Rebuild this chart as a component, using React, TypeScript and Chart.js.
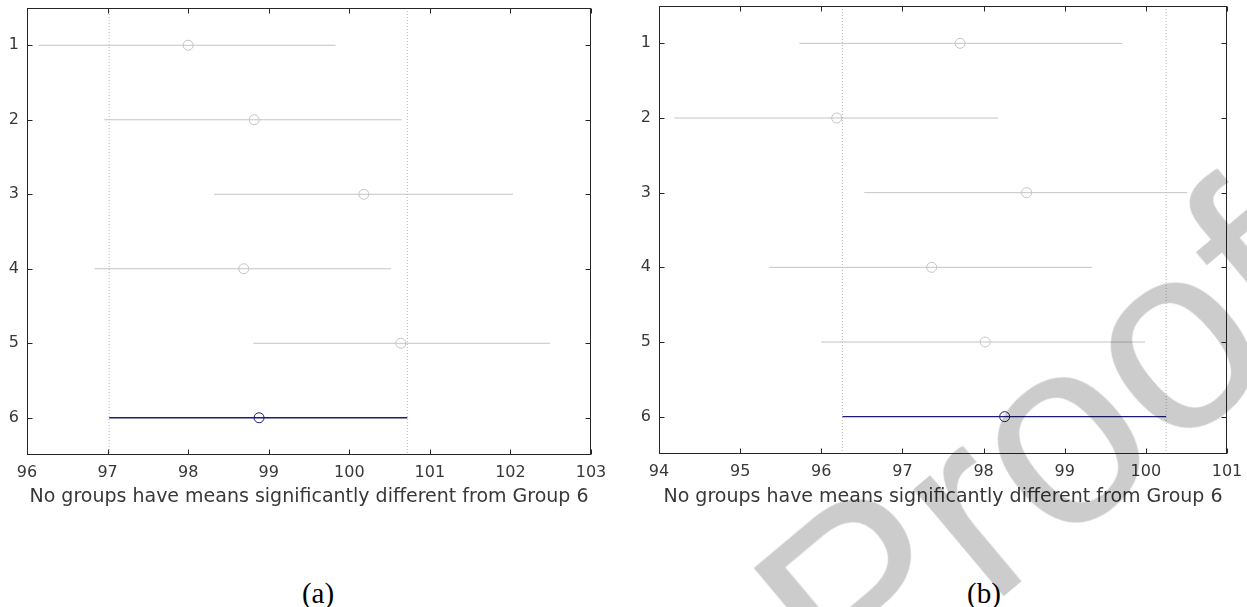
import React, { useEffect, useRef } from "react";
import { Chart, registerables } from "chart.js";

Chart.register(...registerables);

// ---------- data ----------
const groups = [1, 2, 3, 4, 5, 6];
const groupLabels = ["1", "2", "3", "4", "5", "6"];
const yRange = [0.5, 6.5];

// Panel (a)
const meansA = [98.0, 98.82, 100.18, 98.69, 100.64, 98.88];
const lowerA = [96.14, 96.96, 98.32, 96.84, 98.81, 97.02];
const upperA = [99.83, 100.65, 102.03, 100.52, 102.49, 100.72];
const xTicksA = [96, 97, 98, 99, 100, 101, 102, 103];

// Panel (b)
const meansB = [97.71, 96.19, 98.53, 97.36, 98.02, 98.26];
const lowerB = [95.73, 94.19, 96.53, 95.36, 96.0, 96.26];
const upperB = [99.71, 98.18, 100.51, 99.34, 99.99, 100.25];
const xTicksB = [94, 95, 96, 97, 98, 99, 100, 101];

const axisTitle = "No groups have means significantly different from Group 6";
const captions = ["(a)", "(b)"];
const watermark = "Proof";

// ---------- styles ----------
const FONT = "'DejaVu Sans', sans-serif";
const TEXT = "#383838";
const GRAY = "#c4c4c4";
const NAVY = "#1c1c78";
const DOT = "#b8b8b8";

const framePlugin = {
  id: "mcFrame",
  afterDatasetsDraw(chart: any) {
    const { ctx, chartArea: a, scales } = chart;
    const L = Math.round(a.left) + 0.5;
    const R = Math.round(a.right) - 0.5;
    const T = Math.round(a.top) + 0.5;
    const B = Math.round(a.bottom) - 0.5;
    ctx.save();
    ctx.strokeStyle = "#262626";
    ctx.lineWidth = 1;
    ctx.strokeRect(L, T, R - L, B - T);
    const tl = 5;
    ctx.beginPath();
    scales.x.ticks.forEach((t: any) => {
      const px = Math.round(scales.x.getPixelForValue(t.value)) + 0.5;
      ctx.moveTo(px, B);
      ctx.lineTo(px, B - tl);
      ctx.moveTo(px, T);
      ctx.lineTo(px, T + tl);
    });
    scales.y.ticks.forEach((t: any) => {
      const py = Math.round(scales.y.getPixelForValue(t.value)) + 0.5;
      ctx.moveTo(L, py);
      ctx.lineTo(L + tl, py);
      ctx.moveTo(R, py);
      ctx.lineTo(R - tl, py);
    });
    ctx.stroke();
    ctx.restore();
  },
};

function buildConfig(
  means: number[],
  lower: number[],
  upper: number[],
  xTicks: number[],
  yAxisWidth: number,
  xAxisHeight: number,
  titlePadBottom: number,
  padRight: number,
  padTop: number
): any {
  const ref = groups.length - 1;
  const datasets: any[] = [];
  [lower[ref], upper[ref]].forEach((v) => {
    datasets.push({
      type: "line",
      data: [
        { x: v, y: yRange[0] },
        { x: v, y: yRange[1] },
      ],
      borderColor: DOT,
      borderWidth: 1,
      borderDash: [1, 2],
      pointRadius: 0,
      fill: false,
    });
  });
  groups.forEach((g, i) => {
    datasets.push({
      type: "line",
      data: [
        { x: lower[i], y: g },
        { x: upper[i], y: g },
      ],
      borderColor: i === ref ? NAVY : GRAY,
      borderWidth: i === ref ? 1.3 : 1,
      pointRadius: 0,
      fill: false,
    });
  });
  datasets.push({
    type: "scatter",
    data: groups.map((g, i) => ({ x: means[i], y: g })),
    pointRadius: 5,
    pointBorderWidth: 1,
    pointBorderColor: groups.map((_, i) => (i === ref ? NAVY : GRAY)),
    pointBackgroundColor: "rgba(0,0,0,0)",
  });

  return {
    type: "scatter",
    data: { datasets },
    plugins: [framePlugin],
    options: {
      animation: false,
      responsive: false,
      events: [],
      layout: { padding: { left: 0, right: padRight, top: padTop, bottom: 0 } },
      plugins: { legend: { display: false }, tooltip: { enabled: false }, title: { display: false } },
      scales: {
        x: {
          type: "linear",
          min: xTicks[0],
          max: xTicks[xTicks.length - 1],
          afterBuildTicks: (s: any) => {
            s.ticks = xTicks.map((v) => ({ value: v }));
          },
          afterFit: (s: any) => {
            s.height = xAxisHeight;
            s.paddingLeft = 0;
            s.paddingRight = 0;
          },
          grid: { display: false, drawTicks: false },
          border: { display: false },
          ticks: {
            font: { family: FONT, size: 16 },
            color: TEXT,
            padding: 8,
            maxRotation: 0,
            autoSkip: false,
            callback: (v: any) => String(v),
          },
          title: {
            display: true,
            text: axisTitle,
            font: { family: FONT, size: 19 },
            color: TEXT,
            padding: { top: 0, bottom: titlePadBottom },
          },
        },
        y: {
          type: "linear",
          reverse: true,
          min: yRange[0],
          max: yRange[1],
          afterBuildTicks: (s: any) => {
            s.ticks = groups.map((v) => ({ value: v }));
          },
          afterFit: (s: any) => {
            s.width = yAxisWidth;
            s.paddingTop = 0;
            s.paddingBottom = 0;
          },
          grid: { display: false, drawTicks: false },
          border: { display: false },
          ticks: {
            font: { family: FONT, size: 16 },
            color: TEXT,
            padding: 8,
            autoSkip: false,
            callback: (v: any) => groupLabels[groups.indexOf(v)] ?? "",
          },
        },
      },
    },
  };
}

function Panel(props: {
  left: number;
  top: number;
  width: number;
  height: number;
  config: any;
}) {
  const ref = useRef<HTMLCanvasElement | null>(null);
  useEffect(() => {
    if (!ref.current) return;
    const chart = new Chart(ref.current, props.config);
    return () => chart.destroy();
  }, []);
  return (
    <canvas
      ref={ref}
      width={props.width}
      height={props.height}
      style={{
        position: "absolute",
        left: props.left,
        top: props.top,
        width: props.width,
        height: props.height,
      }}
    />
  );
}

export default function App() {
  const cfgA = buildConfig(meansA, lowerA, upperA, xTicksA, 27, 65, 11.6, 29, 8);
  const cfgB = buildConfig(meansB, lowerB, upperB, xTicksB, 29, 64, 9.6, 20, 8);
  const capStyle: React.CSSProperties = {
    position: "absolute",
    top: 577,
    width: 80,
    textAlign: "center",
    fontFamily: "'Liberation Serif', 'Times New Roman', serif",
    fontSize: 29,
    lineHeight: "32px",
    color: "#000",
  };
  return (
    <div
      style={{
        position: "absolute",
        left: 0,
        top: 0,
        width: 1247,
        height: 607,
        overflow: "hidden",
        background: "#fff",
      }}
    >
      <Panel left={0} top={0} width={620} height={520} config={cfgA} />
      <Panel left={630} top={-2} width={617} height={520} config={cfgB} />
      <div style={{ ...capStyle, left: 318 - 40 }}>{captions[0]}</div>
      <div style={{ ...capStyle, left: 984 - 40 }}>{captions[1]}</div>
      <div
        style={{
          position: "absolute",
          left: 1038,
          top: 448,
          transform: "translate(-50%, -50%) rotate(-40deg)",
          fontFamily: "'Liberation Sans', Arial, sans-serif",
          fontWeight: "normal",
          fontSize: 265,
          lineHeight: 1,
          whiteSpace: "nowrap",
          color: "rgba(0,0,0,0.2)",
          pointerEvents: "none",
        }}
      >
        {watermark}
      </div>
    </div>
  );
}
